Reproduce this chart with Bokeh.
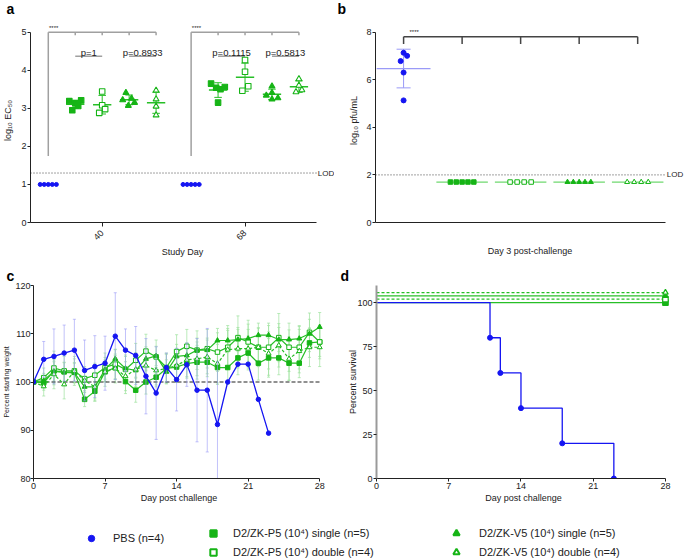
import numpy as np
from bokeh.plotting import figure
from bokeh.models import Range1d, FixedTicker, Label, Legend, LegendItem
from bokeh.layouts import column, row
from bokeh.embed import file_html
from bokeh.resources import INLINE

# ======================= DATA =======================
# Panel a : log10 EC50 per study day
STUDY_DAY_LABELS = ["40", "68"]
EC50_PBS_D40 = [1.0, 1.0, 1.0, 1.0, 1.0]
EC50_P5S_D40 = [3.19, 3.13, 3.06, 3.21, 2.95]
EC50_P5D_D40 = [3.44, 3.08, 2.98, 2.88]
EC50_V5S_D40 = [3.41, 3.22, 3.07, 3.26, 3.15]
EC50_V5D_D40 = [3.47, 3.24, 3.05, 2.82]
EC50_PBS_D68 = [1.0, 1.0, 1.0, 1.0, 1.0]
EC50_P5S_D68 = [3.65, 3.54, 3.50, 3.56, 3.15]
EC50_P5D_D68 = [4.27, 3.96, 3.58, 3.46]
EC50_V5S_D68 = [3.58, 3.41, 3.34, 3.24, 3.27]
EC50_V5D_D68 = [3.77, 3.60, 3.43, 3.48]
EC50_LOD = 1.3
PVALS_D40 = ["p=1", "p=0.8933"]
PVALS_D68 = ["p=0.1115", "p=0.5813"]
SIG_TEXT = "****"

# Panel b : viremia day 3 post-challenge (log10 pfu/mL)
VIR_PBS = [7.13, 7.00, 6.78, 6.30, 5.13]
VIR_P5S = [1.7, 1.7, 1.7, 1.7, 1.7]
VIR_P5D = [1.7, 1.7, 1.7, 1.7]
VIR_V5S = [1.7, 1.7, 1.7, 1.7, 1.7]
VIR_V5D = [1.7, 1.7, 1.7, 1.7]
VIR_LOD = 2.0

# Panel c : percent starting weight
WT_DAYS = [0, 1, 2, 3, 4, 5, 6, 7, 8, 9, 10, 11, 12, 13, 14, 15, 16, 17, 18, 19, 20,
           21, 22, 23, 24, 25, 26, 27, 28]
WT_PBS = [100.0, 104.7, 105.3, 106.0, 106.6, 102.4, 103.2, 103.9, 109.5, 106.6, 105.5,
          101.2, 97.7, 103.0, 100.5, 103.6, 98.3, 98.3, 91.2, 100.0, 103.7, 103.7, 96.4, 89.4]
WT_PBS_SD = [0, 3.7, 5.7, 5.8, 6.4, 6.3, 6.4, 5.6, 9.0, 4.4, 6.0,
             7.8, 9.6, 3.0, 6.5, 4.5, 10.7, 12.8, 13.0, 0, 0, 0, 0, 0]
WT_P5S = [100.0, 99.8, 102.3, 102.1, 102.0, 96.4, 98.1, 102.1, 103.0, 100.1, 98.3, 100.0,
          101.0, 102.8, 103.1, 103.8, 104.1, 104.1, 103.0, 103.0, 105.0, 106.0, 103.9, 105.0,
          105.0, 103.9, 103.9, 108.1, 108.3]
WT_P5S_SD = [0, 1.5, 2.5, 2.0, 2.0, 1.5, 2.0, 2.0, 2.5, 2.5, 2.5, 2.5, 2.0, 3.0, 3.0, 3.0,
             3.5, 3.0, 3.5, 3.5, 3.5, 3.5, 3.5, 4.0, 3.5, 3.5, 3.0, 3.0, 3.0]
WT_P5D = [100.0, 100.9, 102.9, 102.3, 102.3, 100.7, 101.4, 103.0, 103.7, 102.6, 104.5, 106.4,
          105.2, 103.0, 106.3, 107.4, 106.6, 106.9, 106.2, 107.2, 109.2, 108.3, 107.2, 107.2,
          109.2, 107.2, 107.2, 110.3, 108.3]
WT_P5D_SD = [0, 2.0, 3.5, 3.0, 3.0, 2.5, 2.5, 3.0, 3.0, 3.0, 3.5, 3.5, 3.5, 3.0, 3.5, 3.5,
             4.0, 4.0, 4.0, 4.5, 4.5, 4.5, 4.0, 4.5, 5.0, 5.0, 4.5, 4.0, 3.5]
WT_V5S = [100.0, 100.3, 102.2, 102.0, 101.9, 99.0, 99.0, 102.6, 104.8, 102.8, 102.4, 104.8,
          105.4, 102.1, 105.3, 105.5, 106.6, 106.6, 108.6, 108.6, 108.8, 109.0, 109.7, 109.7,
          108.8, 108.8, 109.0, 110.0, 111.4]
WT_V5S_SD = [0, 1.5, 2.0, 2.0, 2.0, 2.0, 2.5, 2.0, 2.0, 2.5, 2.5, 2.5, 2.0, 2.5, 2.5, 2.5,
             2.5, 2.5, 2.5, 2.5, 2.5, 3.0, 2.5, 2.5, 2.5, 2.0, 2.5, 3.0, 3.0]
WT_V5D = [100.0, 99.1, 101.6, 99.5, 102.3, 100.3, 99.0, 102.1, 102.8, 101.2, 102.6, 103.4,
          102.4, 102.8, 103.4, 104.6, 104.8, 105.2, 103.8, 106.7, 106.9, 106.9, 107.2, 105.9,
          107.6, 104.8, 106.4, 107.2, 107.2]
WT_V5D_SD = [0, 2.0, 3.0, 3.0, 2.5, 2.5, 3.0, 3.0, 3.0, 3.0, 3.5, 3.5, 3.0, 3.0, 3.5, 3.5,
             3.5, 3.5, 4.0, 4.0, 4.0, 4.0, 4.0, 4.5, 4.5, 4.5, 4.5, 4.0, 4.0]
WT_BASELINE = 100

# Panel d : survival
SURV_PBS_DAYS = [0, 11, 12, 14, 18, 23]
SURV_PBS = [100, 80, 60, 40, 20, 0]
SURV_VAC_DAYS = [0, 28]
SURV_P5S = [100, 100]
SURV_P5D = [100, 100]
SURV_V5S = [100, 100]
SURV_V5D = [100, 100]

LEGEND_LABELS = ["PBS (n=4)",
                 "D2/ZK-P5 (10\u2074) single (n=5)",
                 "D2/ZK-P5 (10\u2074) double (n=4)",
                 "D2/ZK-V5 (10\u2074) single (n=5)",
                 "D2/ZK-V5 (10\u2074) double (n=4)"]

# ======================= STYLE / LAYOUT =======================
FONT = "Liberation Sans"
BLUE = "#1515f2"
BLUE_LIGHT = "#9a9af7"
GREEN = "#16b416"
GREEN_LINE = "#27bf27"
GREEN_LIGHT = "#9ee29e"
GRAY = "#a0a0a0"
INK = "#222222"

MK = {
    "pbs": dict(marker="circle", fill_color=BLUE, line_color=BLUE),
    "p5s": dict(marker="square", fill_color=GREEN, line_color=GREEN),
    "p5d": dict(marker="square", fill_color="white", line_color=GREEN),
    "v5s": dict(marker="triangle", fill_color=GREEN, line_color=GREEN),
    "v5d": dict(marker="triangle", fill_color="white", line_color=GREEN),
}
SLOTS = [0, 1, 2, 3, 4]
DAY_BASE = [0.0, 5.3]
JIT_A = [
    {"pbs": [-0.3, -0.15, 0, 0.15, 0.3], "p5s": [-0.22, 0, 0.11, 0.22, -0.11],
     "p5d": [0, 0, 0.11, -0.11], "v5s": [-0.12, -0.24, -0.03, 0.09, 0.2], "v5d": [0, 0, 0, 0]},
    {"pbs": [-0.3, -0.15, 0, 0.15, 0.3], "p5s": [-0.26, -0.07, 0.09, 0.25, 0],
     "p5d": [0, 0, 0.12, -0.1], "v5s": [0, 0, -0.21, 0, 0.22], "v5d": [0, 0, -0.11, 0.11]},
]
JIT_B = {"pbs": [0, 0.06, -0.05, 0, 0], "p5s": [-0.2, -0.1, 0, 0.1, 0.2],
         "p5d": [-0.18, -0.06, 0.06, 0.18], "v5s": [-0.2, -0.1, 0, 0.1, 0.2],
         "v5d": [-0.18, -0.06, 0.06, 0.18]}

W_LEFT, W_RIGHT = 334, 350
H_TOP, H_MID, H_LEG = 259, 248, 51


def style_axes(p):
    for ax in p.axis:
        ax.axis_line_color = INK
        ax.axis_line_width = 1
        ax.major_tick_line_color = INK
        ax.major_tick_in = 0
        ax.major_tick_out = 3
        ax.minor_tick_line_color = None
        ax.major_label_text_font = FONT
        ax.major_label_text_font_size = "9px"
        ax.major_label_text_color = INK
        ax.axis_label_text_font = FONT
        ax.axis_label_text_font_size = "9px"
        ax.axis_label_text_font_style = "normal"
        ax.axis_label_text_color = INK
        ax.major_label_standoff = 1
        ax.axis_label_standoff = 1


def make_fig(w, h, xr, yr, borders, letter, letter_x):
    l, r, t, b = borders
    p = figure(width=w, height=h, x_range=Range1d(*xr), y_range=Range1d(*yr),
               output_backend="svg", toolbar_location=None, title=letter,
               min_border_left=l, min_border_right=r, min_border_top=t, min_border_bottom=b)
    p.grid.visible = False
    p.outline_line_color = None
    p.background_fill_color = "white"
    p.border_fill_color = "white"
    p.title.text_font = FONT
    p.title.text_font_size = "14px"
    p.title.text_font_style = "bold"
    p.title.text_color = "black"
    p.title.align = "left"
    p.title.offset = letter_x - l
    p.title.standoff = 0
    p.title.vertical_align = "top"
    style_axes(p)
    return p


def text(p, x, y, s, size="9.5px", align="center", baseline="bottom", xoff=0, color=INK):
    p.add_layout(Label(x=x, y=y, text=s, text_font=FONT, text_font_size=size,
                       text_align=align, text_baseline=baseline, x_offset=xoff,
                       text_color=color))


def mean_sd(p, x, vals, color, half, cap, lw=1.5):
    v = np.array(vals, dtype=float)
    m, s = v.mean(), v.std(ddof=1)
    p.segment([x - half], [m], [x + half], [m], line_color=color, line_width=lw)
    if s > 0:
        p.segment([x, x - cap, x - cap], [m - s, m + s, m - s],
                  [x, x + cap, x + cap], [m + s, m + s, m - s],
                  line_color=color, line_width=1)


def lod_line(p, x0, x1, y):
    p.segment([x0], [y], [x1], [y], line_color="#444444", line_width=1, line_dash="1 2")
    text(p, x1, y, "LOD", size="8px", align="left", baseline="middle", xoff=1)


# ---------------- Panel a ----------------
A_X = (-0.66, 9.96)
pa = make_fig(W_LEFT, H_TOP, (A_X[0], 10.62), (0, 5.36), (26, 0, 18, 34), "a", 2)
pa.yaxis.ticker = FixedTicker(ticks=[0, 1, 2, 3, 4, 5])
pa.yaxis.bounds = (0, 5)
pa.yaxis.axis_label = "log\u2081\u2080 EC\u2085\u2080"
pa.yaxis.axis_label_standoff = 5
tick_pos = [DAY_BASE[0] + 2, DAY_BASE[1] + 2]
pa.xaxis.ticker = FixedTicker(ticks=tick_pos)
pa.xaxis.bounds = A_X
pa.xaxis.major_label_overrides = {tick_pos[0]: STUDY_DAY_LABELS[0], tick_pos[1]: STUDY_DAY_LABELS[1]}
pa.xaxis.major_label_orientation = np.pi / 4
pa.xaxis.major_tick_out = 4
pa.xaxis.major_label_standoff = 5
pa.xaxis.axis_label = "Study Day"
lod_line(pa, A_X[0], A_X[1], EC50_LOD)

groups_a = [
    {"pbs": EC50_PBS_D40, "p5s": EC50_P5S_D40, "p5d": EC50_P5D_D40, "v5s": EC50_V5S_D40, "v5d": EC50_V5D_D40},
    {"pbs": EC50_PBS_D68, "p5s": EC50_P5S_D68, "p5d": EC50_P5D_D68, "v5s": EC50_V5S_D68, "v5d": EC50_V5D_D68},
]
pvals = [PVALS_D40, PVALS_D68]
for gi, grp in enumerate(groups_a):
    base = DAY_BASE[gi]
    xs = [base + s for s in SLOTS]
    pa.segment([xs[0], xs[0]] + xs[1:], [5.0, 5.0] + [5.0] * 4,
               [xs[-1], xs[0]] + xs[1:], [5.0, 1.75] + [4.92] * 4,
               line_color=GRAY, line_width=1.5)
    text(pa, xs[0] + 0.2, 5.03, SIG_TEXT, size="6px")
    for k, (a, b) in enumerate([(1, 2), (3, 4)]):
        pa.segment([xs[a]], [4.37], [xs[b]], [4.37], line_color=GRAY, line_width=1.5)
        text(pa, (xs[a] + xs[b]) / 2, 4.33, pvals[gi][k], size="9.5px", baseline="bottom")
    for key, slot in zip(["pbs", "p5s", "p5d", "v5s", "v5d"], SLOTS):
        vals = grp[key]
        x = [base + slot + j for j in JIT_A[gi][key]]
        if key != "pbs":
            mean_sd(pa, base + slot, vals, GREEN_LINE, 0.34, 0.14)
            pa.scatter(x, vals, size=5.5 if MK[key]["marker"] == "square" else 6,
                       line_width=1.1, **MK[key])
        else:
            pa.scatter(x, vals, size=4, **MK[key])

# ---------------- Panel b ----------------
B_X = (-0.48, 4.48)
pb = make_fig(W_RIGHT, H_TOP, (B_X[0], 4.80), (0, 8.57), (41, 0, 18, 34), "b", 3)
pb.yaxis.ticker = FixedTicker(ticks=[0, 2, 4, 6, 8])
pb.yaxis.bounds = (0, 8)
pb.yaxis.axis_label = "log\u2081\u2080 pfu/mL"
pb.yaxis.axis_label_standoff = 4
pb.xaxis.ticker = FixedTicker(ticks=[])
pb.xaxis.bounds = B_X
pb.xaxis.major_tick_out = 0
pb.xaxis.axis_label = "Day 3 post-challenge"
pb.xaxis.axis_label_standoff = 23
lod_line(pb, B_X[0], B_X[1], VIR_LOD)

bx = [float(s) for s in SLOTS]
pb.segment([bx[0]] + bx, [7.8] + [7.8] * 5, [bx[-1]] + bx, [7.8] + [7.5] * 5,
           line_color="#444444", line_width=1.5)
text(pb, 0.18, 7.88, SIG_TEXT, size="6px")
groups_b = {"pbs": VIR_PBS, "p5s": VIR_P5S, "p5d": VIR_P5D, "v5s": VIR_V5S, "v5d": VIR_V5D}
for key, slot in zip(["pbs", "p5s", "p5d", "v5s", "v5d"], SLOTS):
    vals = groups_b[key]
    x = [slot + j for j in JIT_B[key]]
    if key == "pbs":
        mean_sd(pb, slot, vals, BLUE_LIGHT, 0.46, 0.12, lw=1.3)
        pb.scatter(x, vals, size=5, **MK[key])
    else:
        mean_sd(pb, slot, vals, "#6fd86f", 0.44, 0.1, lw=1.2)
        pb.scatter(x, vals, size=4.5 if MK[key]["marker"] == "square" else 5,
                   line_width=1, **MK[key])

# ---------------- Panel c ----------------
pc = make_fig(W_LEFT, H_MID, (0, 28.47), (80, 120), (29, 10, 26, 29), "c", 2)
pc.xaxis.ticker = FixedTicker(ticks=[0, 7, 14, 21, 28])
pc.xaxis.bounds = (0, 28)
pc.yaxis.ticker = FixedTicker(ticks=[80, 90, 100, 110, 120])
pc.yaxis.axis_label = "Percent starting weight"
pc.yaxis.axis_label_text_font_size = "7px"
pc.yaxis.major_label_standoff = 0
pc.yaxis.axis_label_standoff = 2
pc.xaxis.axis_label = "Day post challenge"


def errbars(p, xs, ys, sds, color, cap=0.15, alpha=0.7):
    x = np.array(xs, dtype=float)
    y = np.array(ys, dtype=float)
    s = np.array(sds, dtype=float)
    m = s > 0
    x, y, s = x[m], y[m], s[m]
    p.segment(x, y - s, x, y + s, line_color=color, line_width=1, line_alpha=alpha)
    p.segment(x - cap, y + s, x + cap, y + s, line_color=color, line_width=1, line_alpha=alpha)
    p.segment(x - cap, y - s, x + cap, y - s, line_color=color, line_width=1, line_alpha=alpha)


series_c = [("p5s", WT_P5S, WT_P5S_SD, None), ("p5d", WT_P5D, WT_P5D_SD, None),
            ("v5s", WT_V5S, WT_V5S_SD, None), ("v5d", WT_V5D, WT_V5D_SD, "3 2")]
for key, vals, sds, dash in series_c:
    errbars(pc, WT_DAYS[:len(vals)], vals, sds, GREEN_LIGHT)
pc.segment([0], [WT_BASELINE], [28], [WT_BASELINE], line_color="#222222", line_width=1.2, line_dash="4 2")
for key, vals, sds, dash in series_c:
    kw = dict(line_color=GREEN_LINE, line_width=1.2)
    if dash:
        kw["line_dash"] = dash
    pc.line(WT_DAYS[:len(vals)], vals, **kw)
    pc.scatter(WT_DAYS[:len(vals)], vals, size=4.5 if MK[key]["marker"] == "square" else 5,
               line_width=1, **MK[key])
pbs_days = WT_DAYS[:len(WT_PBS)]
errbars(pc, pbs_days, WT_PBS, WT_PBS_SD, BLUE_LIGHT, alpha=0.6)
pc.line(pbs_days, WT_PBS, line_color=BLUE, line_width=1.3)
pc.scatter(pbs_days, WT_PBS, size=4.5, **MK["pbs"])

# ---------------- Panel d ----------------
pd_ = make_fig(W_RIGHT, H_MID, (0, 28.49), (0, 109.7), (42, 14, 26, 29), "d", 6)
pd_.xaxis.ticker = FixedTicker(ticks=[0, 7, 14, 21, 28])
pd_.xaxis.bounds = (0, 28)
pd_.yaxis.ticker = FixedTicker(ticks=[0, 25, 50, 75, 100])
pd_.yaxis.axis_line_color = "#9a9a9a"
pd_.yaxis.axis_line_width = 2
pd_.yaxis.axis_label = "Percent survival"
pd_.yaxis.axis_label_standoff = -4
pd_.xaxis.axis_label = "Day post challenge"

vac = [("p5s", SURV_P5S, 0.0, None), ("p5d", SURV_P5D, 1.9, "3 2"),
       ("v5s", SURV_V5S, 3.8, None), ("v5d", SURV_V5D, 5.7, "3 2")]
for key, vals, off, dash in vac:
    y = [v + off for v in vals]
    kw = dict(line_color=GREEN_LINE, line_width=1.3)
    if dash:
        kw["line_dash"] = dash
    pd_.line(SURV_VAC_DAYS, y, **kw)
    pd_.scatter([SURV_VAC_DAYS[-1]], [y[-1]], size=5.5, line_width=1.2, **MK[key])
pd_.step(SURV_PBS_DAYS, SURV_PBS, mode="after", line_color=BLUE, line_width=1.3)
pd_.scatter(SURV_PBS_DAYS[1:], SURV_PBS[1:], size=5, **MK["pbs"])

# ---------------- Legend strip ----------------
pl = figure(width=W_LEFT + W_RIGHT, height=H_LEG, x_range=Range1d(0, 1), y_range=Range1d(0, 1),
            x_axis_type=None, y_axis_type=None, output_backend="svg",
            toolbar_location=None, min_border=0)
pl.grid.visible = False
pl.outline_line_color = None
leg_keys = ["pbs", "p5s", "p5d", "v5s", "v5d"]
# (glyph centre x, glyph centre y, text start x) in page pixels
leg_pos = [(91, 538, 113.3), (213, 533, 232.5), (213, 552, 232.5), (456, 533, 478.6), (456, 552, 478.6)]
GW = 16
for key, label, (cx, cyr, tx) in zip(leg_keys, LEGEND_LABELS, leg_pos):
    # off-canvas swatch renderer, used only to draw the legend glyph
    r = pl.scatter([5], [5], size=8, line_width=1 if key == "pbs" else 2, **MK[key])
    cy = cyr - (H_TOP + H_MID)
    vx = cx - GW / 2
    vy = H_LEG - (cy + GW / 2)
    leg = Legend(items=[LegendItem(label=label, renderers=[r])], location=(vx, vy),
                 glyph_width=GW, glyph_height=GW, label_height=GW, padding=0, margin=0,
                 spacing=0, label_standoff=int(round(tx - (vx + GW))),
                 border_line_color=None, background_fill_alpha=0,
                 label_text_font=FONT, label_text_font_size="11px", label_text_color=INK)
    pl.add_layout(leg, "center")

layout = column(row(pa, pb), row(pc, pd_), pl)
open("out.html", "w").write(file_html(layout, INLINE))
